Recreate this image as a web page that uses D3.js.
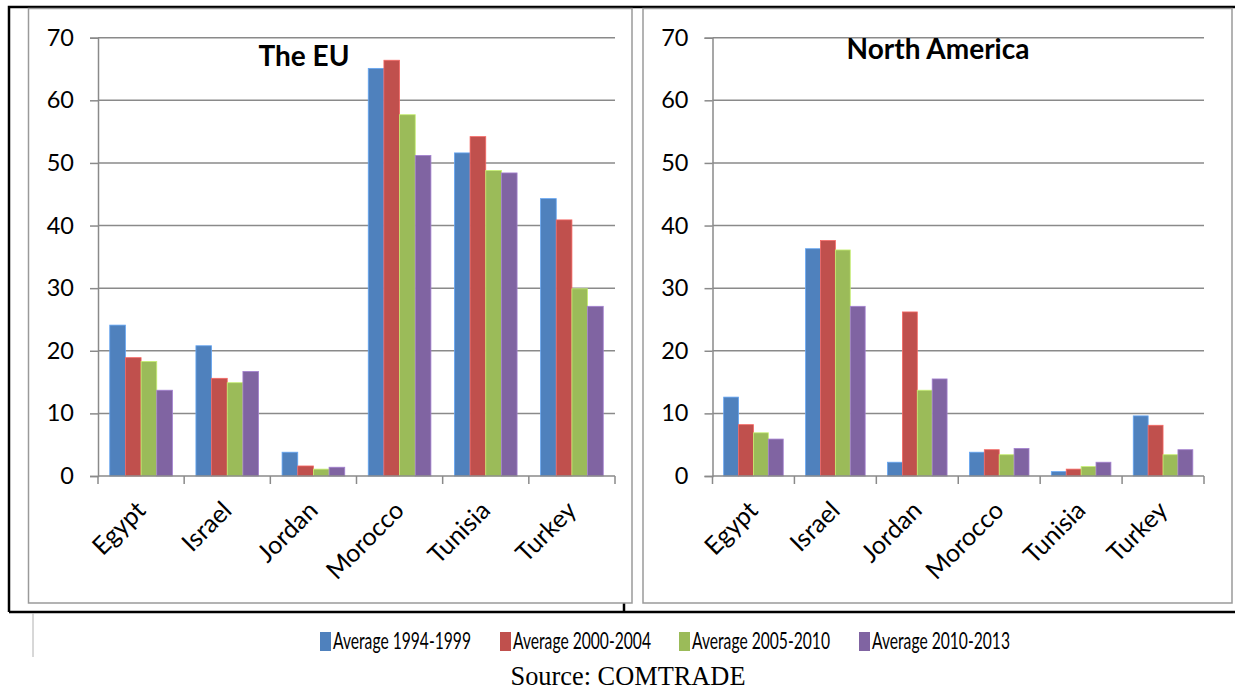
<!DOCTYPE html>
<html>
<head>
<meta charset="utf-8">
<script src="https://cdn.jsdelivr.net/npm/d3@7"></script>
<style>
  html, body { margin: 0; padding: 0; background: #fff; }
  svg { display: block; }
</style>
</head>
<body>
<svg id="chart" width="1235" height="691"></svg>
<script>
// Export shares by partner region, averaged over four periods
const countries = ["Egypt", "Israel", "Jordan", "Morocco", "Tunisia", "Turkey"];
const periods = ["Average 1994-1999", "Average 2000-2004", "Average 2005-2010", "Average 2010-2013"];
const periodColors = ["#4F81BD", "#C0504D", "#9BBB59", "#8064A2"];
const yTicks = [0, 10, 20, 30, 40, 50, 60, 70];

// The EU, one array per period (values in country order)
const euP1 = [24.1, 20.8, 3.8, 65.1, 51.6, 44.3];
const euP2 = [18.9, 15.6, 1.6, 66.4, 54.2, 40.9];
const euP3 = [18.3, 14.9, 1.1, 57.7, 48.8, 29.9];
const euP4 = [13.7, 16.7, 1.4, 51.2, 48.4, 27.1];

// North America
const naP1 = [12.6, 36.3, 2.2, 3.8, 0.7, 9.6];
const naP2 = [8.2, 37.6, 26.2, 4.2, 1.1, 8.1];
const naP3 = [6.9, 36.1, 13.7, 3.4, 1.5, 3.4];
const naP4 = [5.9, 27.1, 15.5, 4.4, 2.2, 4.2];

const svg = d3.select("#chart");
const gridColor = "#8a8a8a";
const tickFont = "Lato, 'Open Sans', sans-serif";

// Outer frame lines
const frame = svg.append("g").attr("stroke", "#000").attr("stroke-width", 2.5).attr("fill", "none");
frame.append("path").attr("d", "M9,612 L9,7 L1235,7");
frame.append("path").attr("d", "M9,612 L1235,612");
frame.append("path").attr("d", "M624,603 L624,612");
svg.append("line").attr("x1", 33).attr("x2", 33).attr("y1", 613).attr("y2", 657)
  .attr("stroke", "#b0b0b0").attr("stroke-width", 1);

function panel(opts) {
  const { box, xRange, title, titleX, titleY, series } = opts;
  const g = svg.append("g");

  // chart area border
  g.append("rect")
    .attr("x", box[0]).attr("y", box[1])
    .attr("width", box[2] - box[0]).attr("height", box[3] - box[1])
    .attr("fill", "#fff").attr("stroke", "#9a9a9a").attr("stroke-width", 1.5);

  const y = d3.scaleLinear().domain([0, 70]).range([476, 37.7]);
  const x = d3.scaleBand().domain(countries).range(xRange).paddingInner(0).paddingOuter(0);
  const gap = x.bandwidth() * 1.5 / 5.5;
  const xs = d3.scaleBand().domain(periods).range([gap / 2, x.bandwidth() - gap / 2]);

  // horizontal gridlines
  g.append("g").selectAll("line").data(yTicks.filter(t => t > 0)).join("line")
    .attr("x1", xRange[0]).attr("x2", xRange[1])
    .attr("y1", d => y(d)).attr("y2", d => y(d))
    .attr("stroke", gridColor).attr("stroke-width", 1.5);

  // y axis
  const yAxis = g.append("g").attr("transform", `translate(${xRange[0]},0)`)
    .call(d3.axisLeft(y).tickValues(yTicks).tickSize(8).tickPadding(16).tickFormat(d3.format("d")));
  yAxis.select(".domain").attr("stroke", gridColor).attr("stroke-width", 1.5);
  yAxis.selectAll(".tick line").attr("stroke", gridColor).attr("stroke-width", 1.5);
  yAxis.selectAll(".tick text")
    .attr("font-family", tickFont).attr("font-size", 23.5).attr("fill", "#000");

  // bars
  const rows = [];
  countries.forEach((c, i) => {
    periods.forEach((p, k) => rows.push({ c, p, k, v: series[k][i] }));
  });
  g.append("g").selectAll("rect").data(rows).join("rect")
    .attr("x", d => x(d.c) + xs(d.p))
    .attr("width", xs.bandwidth())
    .attr("y", d => y(d.v))
    .attr("height", d => y(0) - y(d.v))
    .attr("fill", d => periodColors[d.k])
    .attr("stroke", d => d3.color(periodColors[d.k]).brighter(0.7))
    .attr("stroke-width", 0.8);

  // x axis
  const xAxis = g.append("g").attr("transform", "translate(0,476)");
  xAxis.append("line").attr("x1", xRange[0]).attr("x2", xRange[1])
    .attr("stroke", gridColor).attr("stroke-width", 1.5);
  const edges = countries.map(c => x(c)).concat([xRange[1]]);
  xAxis.selectAll("line.tk").data(edges).join("line").attr("class", "tk")
    .attr("x1", d => d).attr("x2", d => d).attr("y1", 0).attr("y2", 8)
    .attr("stroke", gridColor).attr("stroke-width", 1.5);
  xAxis.selectAll("text").data(countries).join("text")
    .attr("transform", d => `translate(${x(d) + x.bandwidth() / 2 + 6},36) rotate(-45)`)
    .attr("text-anchor", "end")
    .attr("font-family", tickFont).attr("font-size", 25).attr("fill", "#000")
    .text(d => d);

  g.append("text")
    .attr("x", titleX).attr("y", titleY)
    .attr("text-anchor", "middle")
    .attr("font-family", tickFont).attr("font-weight", "bold").attr("font-size", 28)
    .text(title);
}

panel({
  box: [28.5, 8.5, 632, 603],
  xRange: [98, 615],
  title: "The EU", titleX: 304, titleY: 66,
  series: [euP1, euP2, euP3, euP4]
});

panel({
  box: [643, 8.5, 1232, 603],
  xRange: [712.5, 1204],
  title: "North America", titleX: 938, titleY: 59,
  series: [naP1, naP2, naP3, naP4]
});

// legend: condensed labels, stretched vertically about their baseline
const legendX = [320, 500, 679, 859];
const legend = svg.append("g");
periods.forEach((p, k) => {
  legend.append("rect").attr("x", legendX[k]).attr("y", 632)
    .attr("width", 11).attr("height", 19).attr("fill", periodColors[k]);
  legend.append("text")
    .attr("transform", `translate(${legendX[k] + 13},649) scale(1,1.4)`)
    .attr("font-family", tickFont).attr("font-size", 16)
    .attr("textLength", 138).attr("lengthAdjust", "spacingAndGlyphs")
    .text(p);
});

svg.append("text").attr("x", 628).attr("y", 685)
  .attr("text-anchor", "middle")
  .attr("font-family", "'Liberation Serif', 'Times New Roman', serif").attr("font-size", 27)
  .attr("textLength", 235).attr("lengthAdjust", "spacingAndGlyphs")
  .text("Source: COMTRADE");
</script>
</body>
</html>
